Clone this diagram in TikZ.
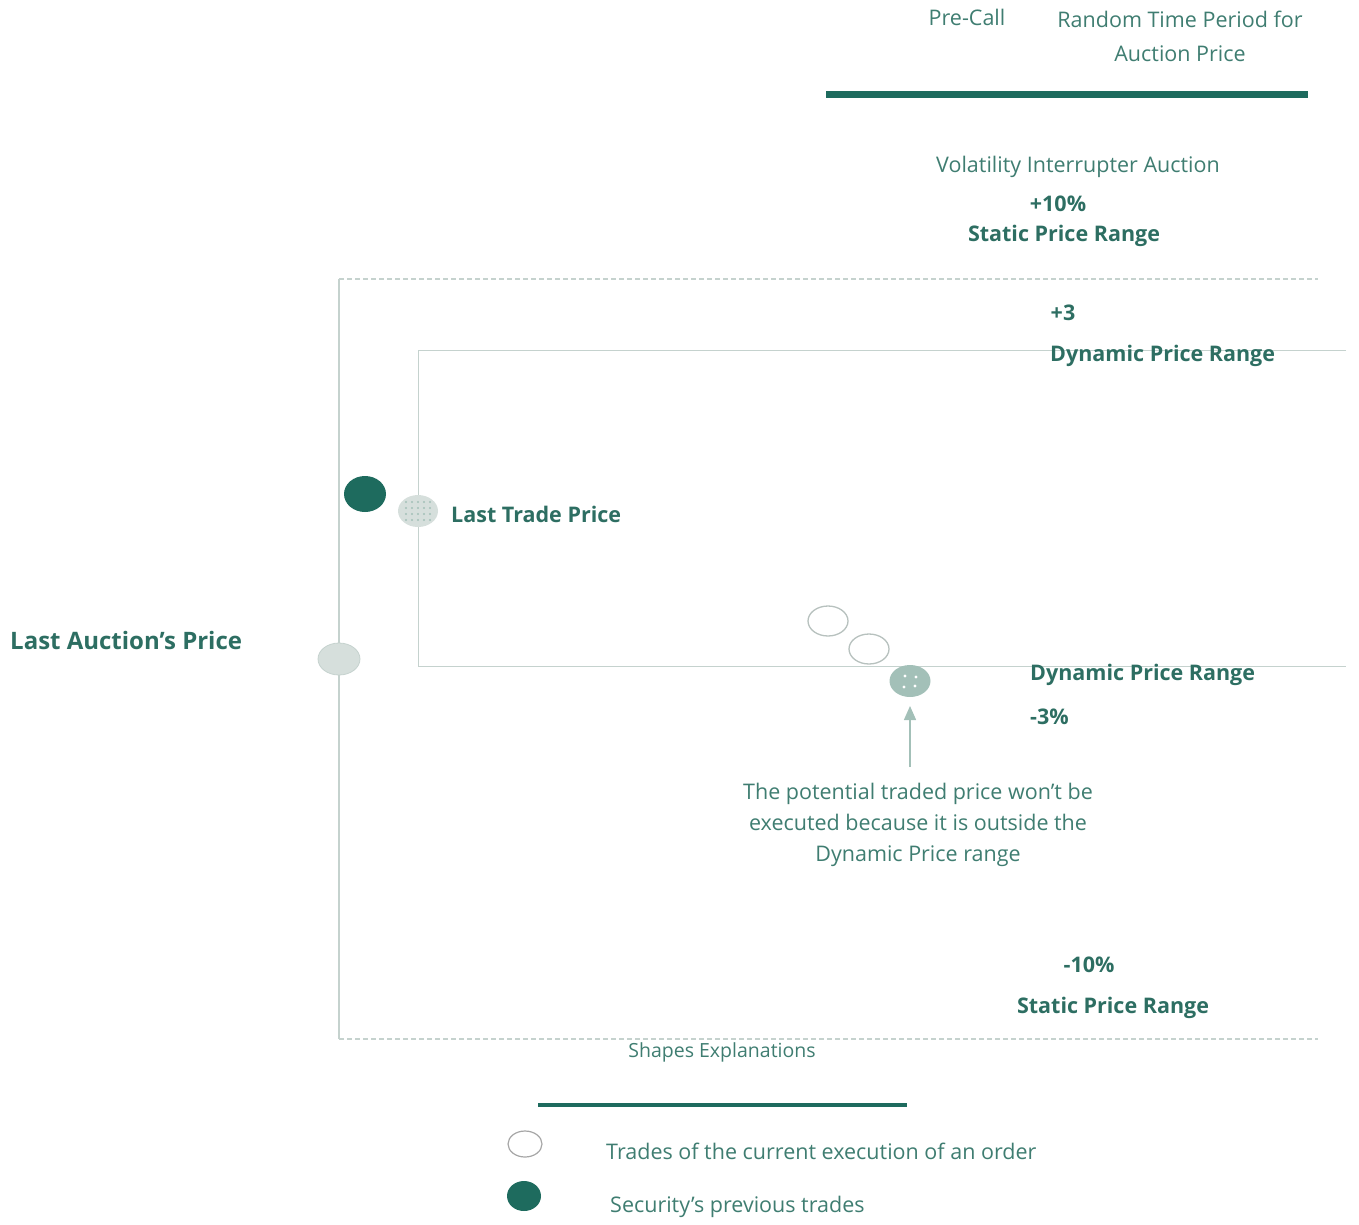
\documentclass[tikz,border=0pt]{standalone}
\usepackage{fontspec}
\setmainfont{Open Sans}
\usetikzlibrary{arrows.meta,calc,shapes.geometric}
\definecolor{teal}{HTML}{1E6B5E}
\definecolor{txt}{HTML}{3F7D71}
\definecolor{btxt}{HTML}{2D6E62}
\definecolor{gline}{HTML}{C5D2CE}
\definecolor{lfill}{HTML}{D6DFDC}
\definecolor{dfill}{HTML}{A3C0B8}
\tikzset{
  reg/.style={text=txt, font=\fontsize{21.5}{31}\selectfont, inner sep=0pt},
  bld/.style={text=btxt, font=\fontsize{21.5}{26}\selectfont\bfseries, inner sep=0pt},
  gl/.style={draw=gline, line width=1.3pt},
  gd/.style={draw=gline, line width=1.3pt, dash pattern=on 5pt off 3pt},
  blob/.style={ellipse, inner sep=0pt},
}
\begin{document}
\begin{tikzpicture}[x=1pt,y=-1pt]
\useasboundingbox (0,0) rectangle (1359,1224);
% top header
\node[reg] (precall) at (967,17) {Pre-Call};
\node[reg, align=center, font=\fontsize{21.5}{34}\selectfont] (rtp) at (1180,36) {Random Time Period for\\Auction Price};
\coordinate (tl) at (826,94); \coordinate (tr) at (1308,94);
\draw[teal, line width=7pt] (tl) -- (tr);
\node[reg] (via) at (1078,167) {Volatility Interrupter Auction};
\node[bld] (p10) at (1058,204) {+10\%};
\node[bld] (spr1) at (1064,236) {Static Price Range};
% outer frame
\coordinate (o1) at (339,279); \coordinate (o2) at (1318,279);
\coordinate (o3) at (339,1039); \coordinate (o4) at (1318,1039);
\draw[gd] (o1) -- (o2);
\draw[gd] (o3) -- (o4);
\draw[gl] (o1) -- (o3);
% inner frame
\coordinate (i1) at (418,350); \coordinate (i2) at (1346,350);
\coordinate (i3) at (418,666); \coordinate (i4) at (1346,666);
\draw[gl, line width=1pt] (i2) -- (i1) -- (i3) -- (i4);
\node[bld] (p3) at (1063,313) {+3};
\node[bld, anchor=west] (dpr1) at (1050,356) {Dynamic Price Range};
% ellipses
\node[blob, fill=teal, minimum width=42pt, minimum height=36pt] (prev) at (365,494) {};
\node[blob, fill=lfill, minimum width=40pt, minimum height=32pt] (ltp) at (418,511) {};
\foreach \dx in {-12,-6,0,6,12}{\foreach \dy in {-9,-3,3,9}{\fill[dfill] ($(ltp)+(\dx,\dy)$) circle (1.2pt);}}
\node[bld, anchor=west] (ltpl) at (451,514) {Last Trade Price};
\node[bld, anchor=west, font=\fontsize{24}{28}\selectfont\bfseries] (lap) at (10,640) {Last Auction’s Price};
\node[blob, fill=lfill, draw=gline, line width=0.8pt, minimum width=42pt, minimum height=32pt] (lape) at (339,659) {};
\node[blob, fill=white, draw=gline!80!gray, line width=1.3pt, minimum width=40pt, minimum height=30pt] (t1) at (828,621) {};
\node[blob, fill=white, draw=gline!80!gray, line width=1.3pt, minimum width=40pt, minimum height=30pt] (t2) at (869,649) {};
\node[blob, fill=dfill, minimum width=41pt, minimum height=32pt] (pot) at (910,681) {};
\foreach \a/\b in {-5/-5,6/-4,-6/6,5/5}{\fill[white] ($(pot)+(\a,\b)$) circle (1.6pt);}
\node[bld, anchor=west] (dpr2) at (1030,675) {Dynamic Price Range};
\node[bld, anchor=west] (m3) at (1030,717) {-3\%};
\coordinate (arr) at (910,767);
\coordinate (arrtip) at (910,706);
\draw[draw=dfill, line width=1.5pt, -{Triangle[length=14pt,width=12pt]}] (arr) -- (arrtip);
\node[reg, align=center] (expl) at (918,825) {The potential traded price won’t be\\executed because it is outside the\\Dynamic Price range};
\node[bld] (m10) at (1089,965) {-10\%};
\node[bld] (spr2) at (1113,1008) {Static Price Range};
% legend
\node[reg, font=\fontsize{19.5}{23}\selectfont] (se) at (722,1052) {Shapes Explanations};
\coordinate (ll) at (538,1105); \coordinate (lr) at (907,1105);
\draw[teal, line width=3.5pt] (ll) -- (lr);
\node[blob, fill=white, draw=gray!70, line width=1.2pt, minimum width=34pt, minimum height=26pt] (lg1) at (525,1144) {};
\node[reg, anchor=west] (lg1t) at (606,1151) {Trades of the current execution of an order};
\node[blob, fill=teal, minimum width=34pt, minimum height=30pt] (lg2) at (524,1196) {};
\node[reg, anchor=west] (lg2t) at (610,1207) {Security’s previous trades};
\end{tikzpicture}
\end{document}
